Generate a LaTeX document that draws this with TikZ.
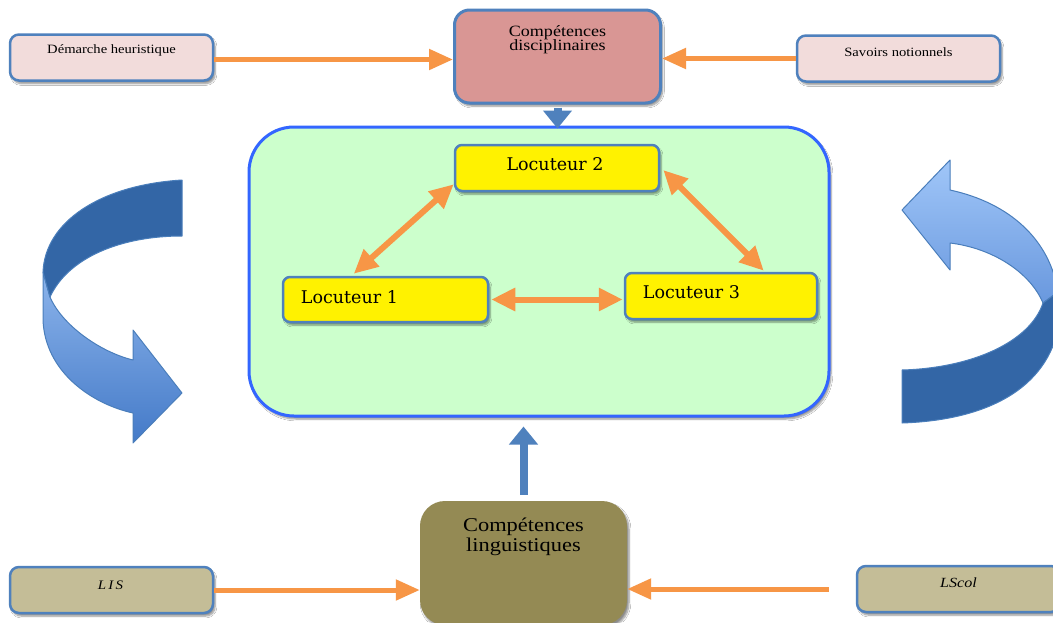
\documentclass[tikz,border=0pt]{standalone}
\usepackage{fontspec}
\setmainfont{Liberation Serif}[FakeStretch=1.15]
\newfontfamily\locfont{DejaVu Serif}
\usetikzlibrary{arrows.meta,shadows.blur,calc}

\definecolor{boxblue}{HTML}{4F81BD}
\definecolor{pinkfill}{HTML}{F2DCDB}
\definecolor{rosefill}{HTML}{D99694}
\definecolor{mintfill}{HTML}{CCFFCC}
\definecolor{bigedge}{HTML}{3366FF}
\definecolor{olivefill}{HTML}{948A54}
\definecolor{khakifill}{HTML}{C4BD97}
\definecolor{arroworange}{HTML}{F79646}
\definecolor{ribbondark}{HTML}{3366A6}
\definecolor{ribbonedge}{HTML}{4A7EBB}

\tikzset{
  soft shadow/.style={blur shadow={shadow xshift=2pt, shadow yshift=-3pt, shadow opacity=45, shadow blur steps=6}},
  sidebox/.style={draw=boxblue, line width=2.5pt, rounded corners=9pt,
    minimum width=203pt, minimum height=46pt, inner sep=0pt, soft shadow},
  locbox/.style={draw=boxblue, line width=2.5pt, rounded corners=7pt, fill=yellow,
    minimum height=46pt, inner sep=0pt, soft shadow},
  smalltxt/.style={font=\fontsize{12.7}{14}\selectfont, inner sep=0pt},
  loctxt/.style={font=\locfont\fontsize{17.5}{20}\selectfont, inner sep=0pt},
  oarrow/.style={draw=arroworange, line width=5pt, -{Triangle[width=20pt,length=24pt]}},
  larrow/.style={draw=arroworange, line width=6pt,
    {Triangle[width=22pt,length=24pt]}-{Triangle[width=22pt,length=24pt]}},
  barrow/.style={draw=boxblue, line width=8pt, -{Triangle[width=28pt,length=18pt]}},
  ribbon/.style={draw=ribbonedge, line width=1pt, line join=round},
}

\begin{document}
\begin{tikzpicture}[x=1pt, y=-1pt]
\useasboundingbox (0,0) rectangle (1053,622);
\clip (0,0) rectangle (1053,622);
\fill[white] (0,0) rectangle (1053,622);

% left ribbon arrow, curling down towards the centre
\path[ribbon, top color={rgb,255:red,140;green,180;blue,235}, bottom color={rgb,255:red,68;green,122;blue,200}]
  (43,272) -- (43,320) .. controls (45,372) and (92,404) .. (133,413)
  -- (133,443) -- (182,393) -- (133,330) -- (133,360)
  .. controls (100,352) and (62,325) .. (50,297) -- cycle;
\path[ribbon, fill=ribbondark]
  (182,180) .. controls (100,185) and (45,222) .. (43,272)
  -- (50,297) .. controls (68,258) and (120,236) .. (182,236) -- cycle;

% right ribbon arrow, curling up towards the centre
\path[ribbon, top color={rgb,255:red,160;green,198;blue,248}, bottom color={rgb,255:red,105;green,152;blue,222}]
  (902,210) -- (950,160) -- (950,190)
  .. controls (1010,203) and (1050,240) .. (1058,292)
  -- (1043,303) .. controls (1030,272) and (992,248) .. (950,243)
  -- (950,270) -- cycle;
\path[ribbon, fill=ribbondark]
  (1043,303) .. controls (1030,342) and (972,368) .. (902,370)
  -- (902,423) .. controls (992,420) and (1052,385) .. (1060,318)
  -- (1058,292) -- cycle;

% upper row
\node[sidebox, fill=pinkfill] (dem) at (111.5,57.5) {};
\node[smalltxt] (demt) at ($(dem.north)+(0,17)$) {Démarche heuristique};
\node[draw=boxblue, line width=3pt, rounded corners=15pt, fill=rosefill,
  minimum width=206pt, minimum height=93pt, inner sep=0pt, soft shadow] (disc) at (557.5,56.5) {};
\node[font=\fontsize{15.7}{14.5}\selectfont, align=center, inner sep=0pt] (disct)
  at ($(disc.north)+(0,31)$) {Compétences\\disciplinaires};
\node[sidebox, fill=pinkfill] (sav) at (898.5,58.5) {};
\node[smalltxt] (savt) at ($(sav.north)+(0,18)$) {Savoirs notionnels};

% central frame with the three speakers
\node[draw=bigedge, line width=3pt, rounded corners=45pt, fill=mintfill,
  minimum width=580pt, minimum height=289pt, inner sep=0pt, soft shadow] (big) at (539,271.5) {};
\node[locbox, minimum width=204pt] (L2) at (557,168) {};
\node[loctxt] (L2t) at ($(L2.center)+(-2,-4)$) {Locuteur 2};
\node[locbox, minimum width=205pt, minimum height=45pt] (L1) at (385.5,299.5) {};
\node[loctxt, anchor=west] (L1t) at ($(L1.west)+(19,-2)$) {Locuteur 1};
\node[locbox, minimum width=192pt] (L3) at (721,296) {};
\node[loctxt, anchor=west] (L3t) at ($(L3.west)+(19,-4)$) {Locuteur 3};

% lower row
\node[fill=olivefill, rounded corners=25pt, minimum width=207pt, minimum height=124pt,
  inner sep=0pt, soft shadow] (ling) at (523.5,563) {};
\node[font=\fontsize{19.5}{20}\selectfont, align=center, inner sep=0pt] (lingt)
  at ($(ling.north)+(0,36)$) {Compétences\\linguistiques};
\node[sidebox, fill=khakifill] (lis) at (111.5,590) {};
\node[smalltxt, font=\itshape\fontsize{13}{14}\selectfont] (list) at ($(lis.center)+(-1,-5)$) {L\,I\,S};
\node[sidebox, fill=khakifill] (lscol) at (958.5,589) {};
\node[smalltxt, font=\itshape\fontsize{14}{14}\selectfont] (lscolt) at ($(lscol.center)+(0,-6)$) {LScol};

% connectors
\draw[oarrow] ($(dem.east)+(0,2)$) -- ($(dem.east -| disc.west)+(0,2)$);
\draw[oarrow] (sav.west) -- (sav.west -| disc.east);
\draw[oarrow] (lis.east) -- (lis.east -| ling.west);
\draw[oarrow, shorten <=27pt] (lscol.west) -- (lscol.west -| ling.east);
\draw[barrow, shorten <=3pt, shorten >=-3pt] (disc.south) -- (disc.south |- big.north);
\draw[barrow, shorten <=6pt, shorten >=9pt] (ling.north) -- (ling.north |- big.south);
\draw[larrow] ($(L1.east)+(2,0)$) -- ($(L1.east -| L3.west)+(-1,0)$);
\draw[larrow] ($(L1.north west)+(72,-2)$) -- ($(L2.south west)+(0,-8)$);
\draw[larrow] ($(L2.east)+(3,2)$) -- ($(L3.north west)+(140,-1)$);
\end{tikzpicture}
\end{document}
